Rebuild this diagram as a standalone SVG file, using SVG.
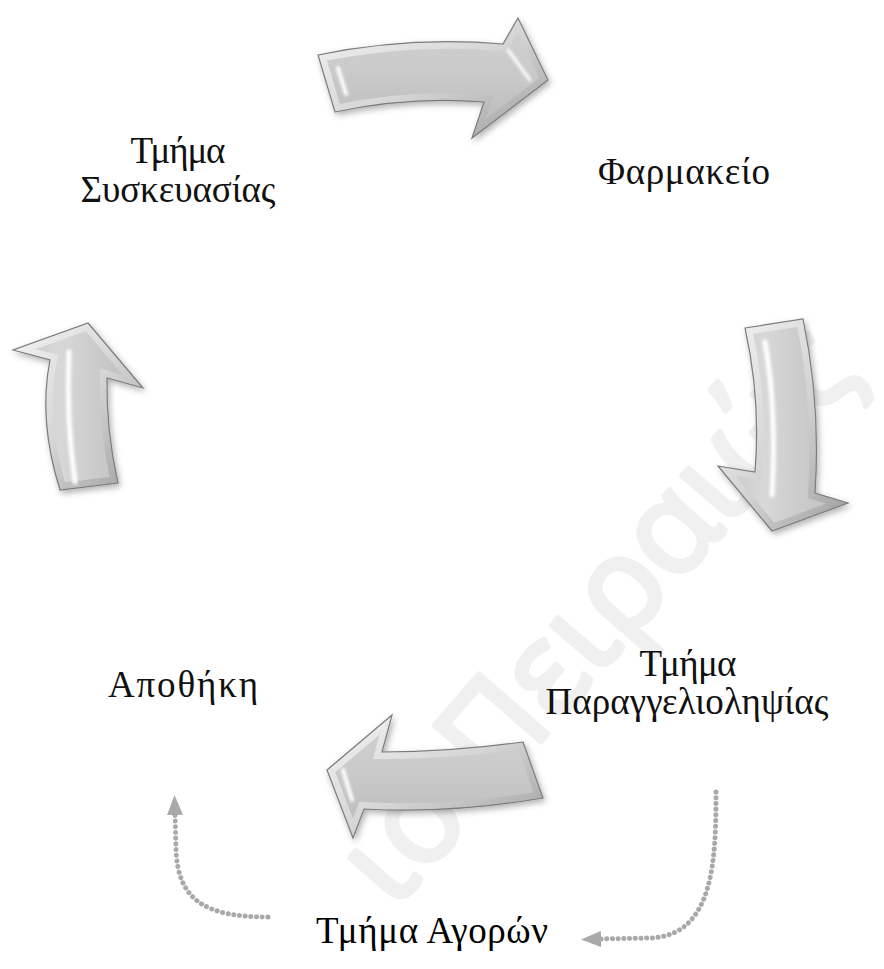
<svg xmlns="http://www.w3.org/2000/svg" width="884" height="969" viewBox="0 0 884 969">
<style>
.lbl{font-family:"Liberation Serif","DejaVu Serif",serif;font-size:37px;fill:#111;text-anchor:middle}
.big{font-size:37px;fill:#000}
.dots{fill:none;stroke:#a9a9a9;stroke-width:5;stroke-linecap:round;stroke-dasharray:0.1 5.6}
.edge{fill:none;stroke:#7c7c7c;stroke-width:1.2;stroke-linejoin:miter}
.hl{fill:none;stroke:#ffffff;stroke-linecap:round;filter:url(#soft)}
.wm{font-family:"Open Sans","Liberation Sans",sans-serif;font-size:128px;fill:#f0f0f0;stroke:#f0f0f0;stroke-width:5;stroke-linejoin:round}
</style>
<defs>
<linearGradient id="bodyH" x1="0" y1="0" x2="0" y2="1">
<stop offset="0" stop-color="#d2d2d2"/><stop offset="0.45" stop-color="#cacaca"/><stop offset="1" stop-color="#b9b9b9"/>
</linearGradient>
<linearGradient id="bodyV" x1="0" y1="0" x2="1" y2="0">
<stop offset="0" stop-color="#c4c4c4"/><stop offset="0.35" stop-color="#d8d8d8"/><stop offset="1" stop-color="#bcbcbc"/>
</linearGradient>
<linearGradient id="rim" x1="0" y1="0" x2="1" y2="1">
<stop offset="0" stop-color="#f4f4f4"/><stop offset="0.5" stop-color="#d6d6d6"/><stop offset="1" stop-color="#9d9d9d"/>
</linearGradient>
<filter id="shadow" x="-20%" y="-20%" width="140%" height="140%">
<feDropShadow dx="2" dy="3" stdDeviation="3" flood-color="#000" flood-opacity="0.3"/>
</filter>
<filter id="soft" x="-50%" y="-50%" width="200%" height="200%"><feGaussianBlur stdDeviation="1.5"/></filter>
<marker id="ah" viewBox="0 0 20 16" refX="1" refY="8" markerWidth="20" markerHeight="16" markerUnits="userSpaceOnUse" orient="auto">
<path d="M0,0 L20,8 L0,16 Z" fill="#a9a9a9"/>
</marker>
<path id="pTop" d="M318,55 Q410,36 503,44 L518,18 L548,80 L472,138 L484,102 Q410,96 335,112 Z"/>
<path id="pRight" d="M745,328 L803,319 Q821,405 815,493 L848,503 L772,531 L718,466 L755,472 Q761,400 745,328 Z"/>
<path id="pBottom" d="M523,742 Q450,752 382,752 L392,715 L327,770 L353,838 L364,809 Q450,814 543,798 Z"/>
<path id="pLeft" d="M88,323 L143,388 L107,378 Q106,430 118,483 L60,490 Q38,420 50,360 L13,350 Z"/>
<clipPath id="cTop"><use href="#pTop"/></clipPath>
<clipPath id="cRight"><use href="#pRight"/></clipPath>
<clipPath id="cBottom"><use href="#pBottom"/></clipPath>
<clipPath id="cLeft"><use href="#pLeft"/></clipPath>
</defs>
<rect width="884" height="969" fill="#fff"/>
<text class="wm" transform="translate(590,610) rotate(-49)" text-anchor="middle" dominant-baseline="central">ιο Πειραιώς</text>

<g id="arrows">
<g id="arrow-top" filter="url(#shadow)">
<use href="#pTop" fill="url(#bodyH)" stroke="url(#rim)" stroke-width="14" clip-path="url(#cTop)"/>
<use href="#pTop" class="edge"/>
<path class="hl" d="M338,68 L346,94" stroke-width="4"/>
<path class="hl" d="M508,50 L530,80" stroke-width="3"/>
</g>
<g id="arrow-right" filter="url(#shadow)">
<use href="#pRight" fill="url(#bodyV)" stroke="url(#rim)" stroke-width="14" clip-path="url(#cRight)"/>
<use href="#pRight" class="edge"/>
<path class="hl" d="M765,342 Q777,410 772,495" stroke-width="5"/>
</g>
<g id="arrow-bottom" filter="url(#shadow)">
<use href="#pBottom" fill="url(#bodyH)" stroke="url(#rim)" stroke-width="14" clip-path="url(#cBottom)"/>
<use href="#pBottom" class="edge"/>
<path class="hl" d="M343,770 L352,800" stroke-width="4"/>
</g>
<g id="arrow-left" filter="url(#shadow)">
<use href="#pLeft" fill="url(#bodyV)" stroke="url(#rim)" stroke-width="14" clip-path="url(#cLeft)"/>
<use href="#pLeft" class="edge"/>
<path class="hl" d="M69,352 Q66,420 75,482" stroke-width="5"/>
</g>
</g>

<g id="connectors">
<path class="dots" d="M716,792 C716,860 714,936 650,938 L600,939" marker-end="url(#ah)"/>
<path class="dots" d="M268,917 C205,917 178,900 176,850 L175,814" marker-end="url(#ah)"/>
</g>

<g id="node-syskevasia"><text class="lbl" x="178" y="163" textLength="95">Τμήμα</text><text class="lbl" x="178" y="202" textLength="195">Συσκευασίας</text></g>
<g id="node-farmakeio"><text class="lbl" x="684" y="184" textLength="172">Φαρμακείο</text></g>
<g id="node-paraggelioliptias"><text class="lbl" x="688" y="676" textLength="97">Τμήμα</text><text class="lbl" x="687" y="714" textLength="283">Παραγγελιοληψίας</text></g>
<g id="node-apothiki"><text class="lbl" x="183" y="697" textLength="150">Αποθήκη</text></g>
<g id="node-agoron"><text class="lbl big" x="432" y="943" textLength="232">Τμήμα Αγορών</text></g>
</svg>
